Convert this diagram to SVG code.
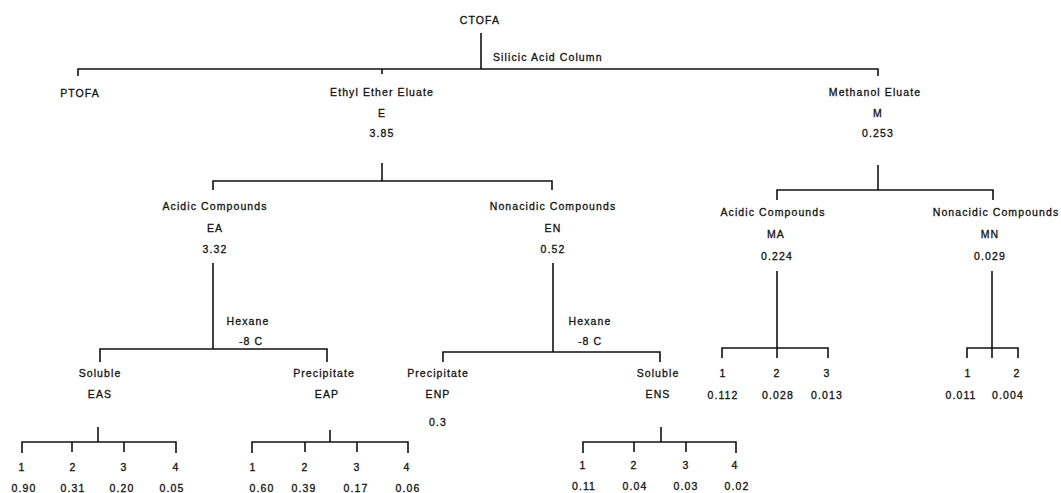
<svg xmlns="http://www.w3.org/2000/svg" width="1061" height="493" viewBox="0 0 1061 493">
<style>
text { font-family: "Liberation Sans", Arial, sans-serif; font-size: 10.5px; letter-spacing: 1.1px; fill: #111; stroke: #111; stroke-width: 0.3px; text-anchor: middle; }
.s { text-anchor: start; }
#connectors path { stroke: #111; stroke-width: 1.6; fill: none; }
</style>
<rect width="1061" height="493" fill="#fff"/>
<g id="connectors">
<path d="M481 33 V69"/>
<path d="M78 76 V69 H878 V76"/>
<path d="M382 69 V74"/>
<path d="M382 163 V181"/>
<path d="M213 190 V181 H552 V190"/>
<path d="M213 263 V349"/>
<path d="M100 362 V349 H327 V362"/>
<path d="M98 427 V442"/>
<path d="M22 453 V442 H176 V453 M72 442 V452 M124 442 V452"/>
<path d="M330 430 V442"/>
<path d="M252 453 V442 H408 V453 M305 442 V452 M357 442 V452"/>
<path d="M553 263 V352"/>
<path d="M443 362 V352 H660 V362"/>
<path d="M661 427 V442"/>
<path d="M583 453 V442 H736 V453 M634 442 V452 M686 442 V452"/>
<path d="M878 165 V190"/>
<path d="M777 200 V190 H993 V200"/>
<path d="M777 271 V358"/>
<path d="M722 358 V348 H828 V358"/>
<path d="M992 271 V358"/>
<path d="M967 358 V348 H1018 V358"/>
</g>
<g id="CTOFA"><text x="480" y="24">CTOFA</text></g>
<g id="silicic-label"><text class="s" x="493" y="61">Silicic Acid Column</text></g>
<g id="PTOFA"><text x="80" y="97">PTOFA</text></g>
<g id="E"><text x="382" y="96">Ethyl Ether Eluate</text><text x="382" y="117">E</text><text x="382" y="137">3.85</text></g>
<g id="M"><text x="875" y="96">Methanol Eluate</text><text x="878" y="117">M</text><text x="878" y="137">0.253</text></g>
<g id="EA"><text x="215" y="210">Acidic Compounds</text><text x="215" y="232">EA</text><text x="215" y="253">3.32</text></g>
<g id="EN"><text x="553" y="210">Nonacidic Compounds</text><text x="553" y="232">EN</text><text x="553" y="253">0.52</text></g>
<g id="MA"><text x="773" y="216">Acidic Compounds</text><text x="776" y="238">MA</text><text x="777" y="260">0.224</text></g>
<g id="MN"><text x="996" y="216">Nonacidic Compounds</text><text x="990" y="238">MN</text><text x="990" y="260">0.029</text></g>
<g id="hexane-EA"><text x="248" y="325">Hexane</text><text x="251" y="345">-8 C</text></g>
<g id="hexane-EN"><text x="590" y="325">Hexane</text><text x="590" y="345">-8 C</text></g>
<g id="EAS"><text x="100" y="377">Soluble</text><text x="100" y="398">EAS</text></g>
<g id="EAP"><text x="324" y="377">Precipitate</text><text x="327" y="398">EAP</text></g>
<g id="ENP"><text x="438" y="377">Precipitate</text><text x="438" y="398">ENP</text><text x="438" y="426">0.3</text></g>
<g id="ENS"><text x="658" y="377">Soluble</text><text x="658" y="398">ENS</text></g>
<g id="MA-fractions"><text x="723" y="377">1</text><text x="777" y="377">2</text><text x="827" y="377">3</text><text x="723" y="399">0.112</text><text x="778" y="399">0.028</text><text x="827" y="399">0.013</text></g>
<g id="MN-fractions"><text x="968" y="377">1</text><text x="1017" y="377">2</text><text x="961" y="399">0.011</text><text x="1008" y="399">0.004</text></g>
<g id="EAS-fractions"><text x="22" y="471">1</text><text x="73" y="471">2</text><text x="124" y="471">3</text><text x="176" y="471">4</text><text x="24" y="492">0.90</text><text x="73" y="492">0.31</text><text x="122" y="492">0.20</text><text x="172" y="492">0.05</text></g>
<g id="EAP-fractions"><text x="253" y="471">1</text><text x="305" y="471">2</text><text x="357" y="471">3</text><text x="407" y="471">4</text><text x="262" y="492">0.60</text><text x="304" y="492">0.39</text><text x="356" y="492">0.17</text><text x="408" y="492">0.06</text></g>
<g id="ENS-fractions"><text x="583" y="469">1</text><text x="634" y="469">2</text><text x="686" y="469">3</text><text x="735" y="469">4</text><text x="584" y="490">0.11</text><text x="635" y="490">0.04</text><text x="686" y="490">0.03</text><text x="737" y="490">0.02</text></g>
</svg>
